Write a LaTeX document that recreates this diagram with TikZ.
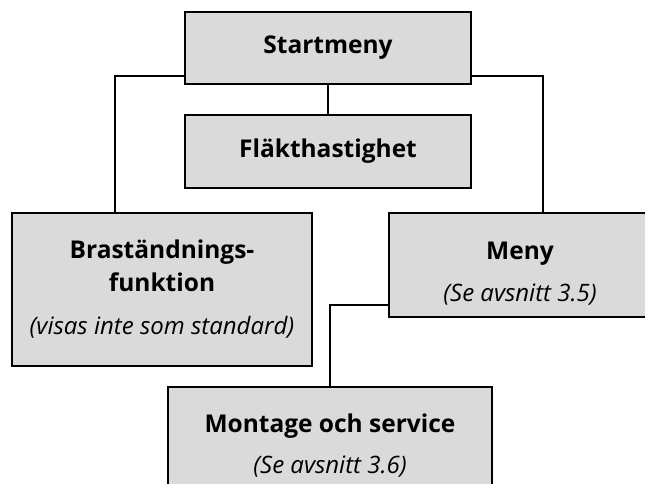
\documentclass[tikz,border=0pt]{standalone}
\usepackage{fontspec}
\setmainfont{Open Sans}
\usetikzlibrary{calc}
\definecolor{boxgray}{HTML}{DADADA}
\newcommand{\avsn}[1]{{\fontsize{24}{28}\selectfont\mdseries\itshape #1}}

\begin{document}
\begin{tikzpicture}[x=1pt,y=-1pt,
    menybox/.style={draw,fill=boxgray,line width=1.5pt,align=center,inner sep=0pt,
      font=\fontsize{24.5}{33}\selectfont\bfseries},
    lank/.style={line width=1.3pt}]
  \useasboundingbox (0,0) rectangle (645,484);
  \node[menybox,minimum width=286,minimum height=72] (start) at (328,48) {Startmeny};
  \node[menybox,minimum width=286,minimum height=73] (flakt) at (328,151.5) {Fläkthastighet};
  \node[menybox,minimum width=300,minimum height=153] (brand) at (162,289.5)
    {Braständnings-\\funktion\\[10pt]\avsn{(visas inte som standard)}};
  \node[menybox,minimum width=262,minimum height=104] (meny) at (520,265)
    {\rule{0pt}{34pt}Meny\\[9pt]\avsn{(Se avsnitt 3.5)}};
  \node[menybox,minimum width=324,minimum height=118] (montage) at (330,446)
    {Montage och service\\[8pt]\avsn{(Se avsnitt 3.6)}};
  \coordinate (vk) at (115,76);
  \coordinate (hk) at (543,76);
  \coordinate (mk) at (330,305);
  \draw[lank] (start) -- (flakt);
  \draw[lank] (start.west |- vk) -- (vk) -- (vk |- brand.north);
  \draw[lank] (start.east |- hk) -- (hk) -- (hk |- meny.north);
  \draw[lank] (meny.west |- mk) -- (mk) -- (montage.north);
\end{tikzpicture}
\end{document}
